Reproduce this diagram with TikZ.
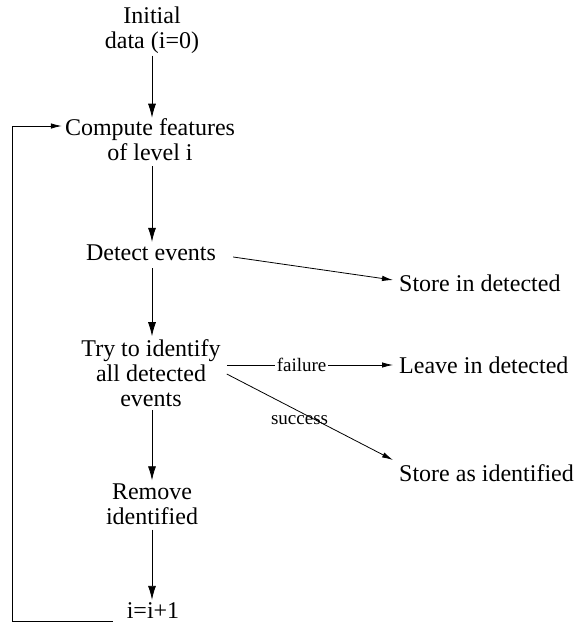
\documentclass[tikz,border=0pt]{standalone}
\usepackage{fontspec}
\setmainfont{Liberation Serif}
\usetikzlibrary{arrows.meta}
\begin{document}
\begin{tikzpicture}[x=1pt,y=-1pt,
  txt/.style={font=\fontsize{24}{25}\selectfont, align=center, inner sep=0pt},
  lbl/.style={font=\fontsize{19}{20}\selectfont, inner sep=1.5pt, fill=white},
  varr/.style={line width=0.8pt, -{Latex[length=14pt,width=8pt]}},
  sarr/.style={line width=0.8pt, -{Latex[length=11pt,width=5.5pt]}},
  plain/.style={line width=0.8pt}]
\useasboundingbox (0,0) rectangle (578,630);
\node[txt] (init) at (152,30) {Initial\\data (i=0)};
\node[txt] (compute) at (150,140) {Compute features\\of level i};
\node[txt] (detect) at (151,253) {Detect events};
\node[txt] (try) at (151,373) {Try to identify\\all detected\\events};
\node[txt] (remove) at (152,504) {Remove\\identified};
\node[txt] (inc) at (153,611) {i=i+1};
\node[txt, anchor=west] (sdet) at (399,283) {Store in detected};
\node[txt, anchor=west] (leave) at (399,365) {Leave in detected};
\node[txt, anchor=west] (sid) at (399,473) {Store as identified};

\draw[varr] (init.south -| 152,0) ++(0,2) -- ([yshift=1pt]compute.north -| 152,0);
\draw[varr] (compute.south -| 152,0) ++(0,5) -- ([yshift=3pt]detect.north -| 152,0);
\draw[varr] (detect.south -| 152,0) ++(0,7) -- ([yshift=3pt]try.north -| 152,0);
\draw[varr] (try.south -| 152,0) ++(0,3) -- ([yshift=3pt]remove.north -| 152,0);
\draw[varr] (remove.south -| 152,0) ++(0,5) -- ([yshift=3pt]inc.north -| 152,0);

\draw[sarr] ([xshift=17pt,yshift=-4pt]detect.east) -- ([xshift=-6pt,yshift=3pt]sdet.west);
\draw[sarr] ([xshift=6pt]try.east |- 0,365) -- node[lbl, pos=0.45] {failure} ([xshift=-6pt]leave.west);
\draw[sarr] ([xshift=6pt]try.east |- 0,374) -- node[lbl, pos=0.45, yshift=-7pt, xshift=-2pt, fill=none] {success} ([xshift=-6pt,yshift=13pt]sid.west);

\coordinate (lstart) at ([xshift=-14pt]inc.west |- 0,621);
\draw[sarr] (lstart) -| (12,126) -- ([xshift=-3pt]compute.west |- 0,126);
\end{tikzpicture}
\end{document}
